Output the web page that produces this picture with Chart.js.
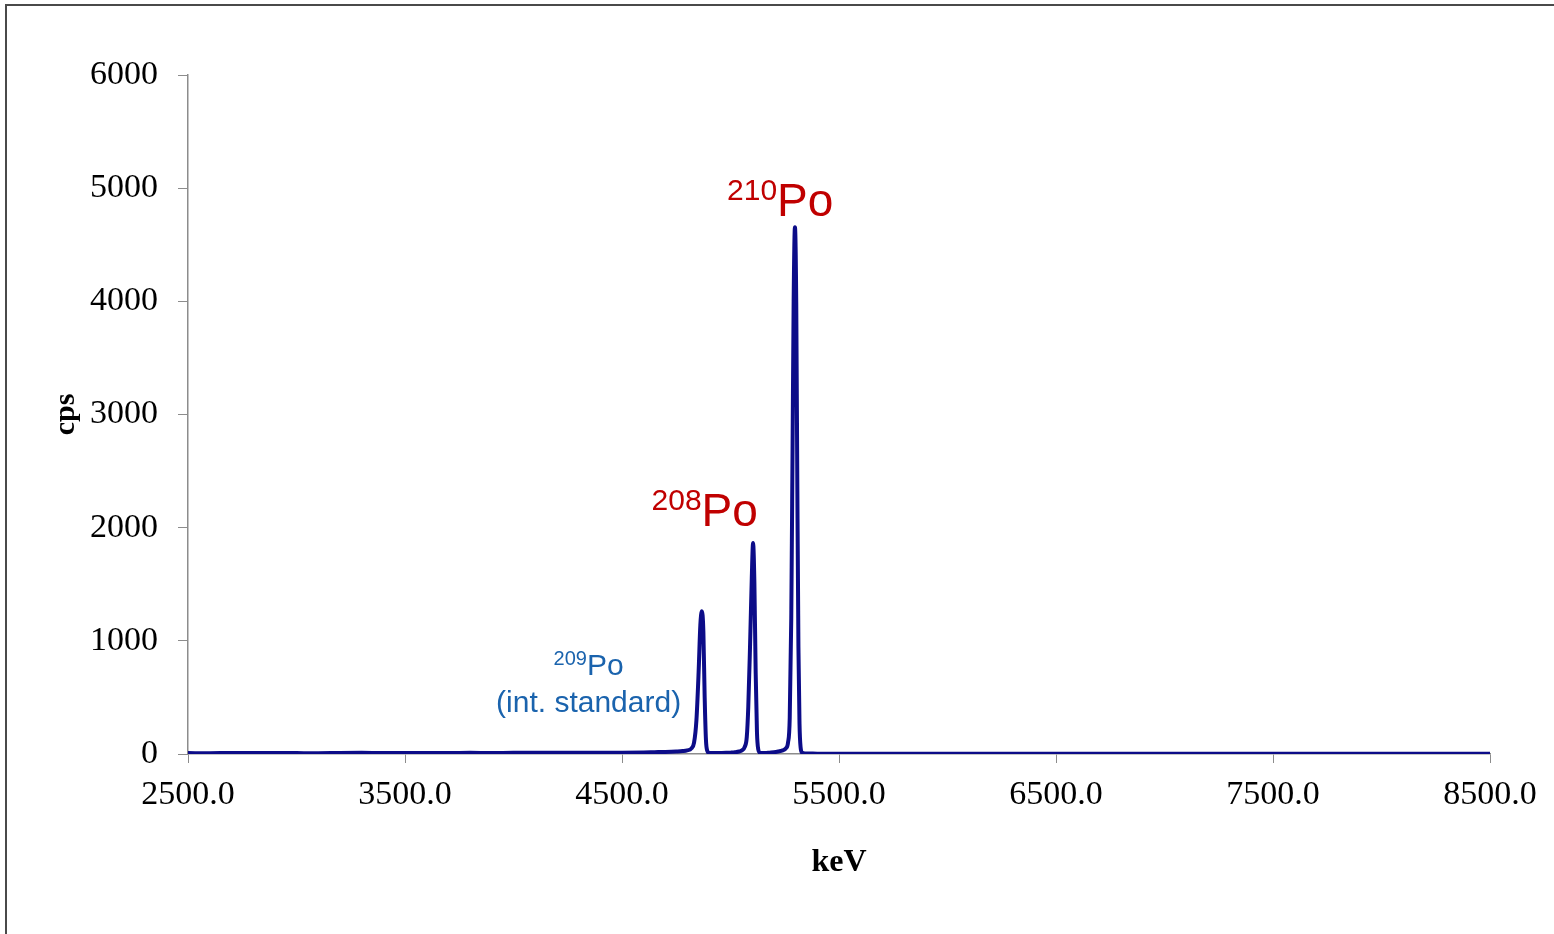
<!DOCTYPE html>
<html>
<head>
<meta charset="utf-8">
<script src="https://cdn.jsdelivr.net/npm/chart.js@4"></script>
<style>
  body { margin: 0; background: #fff; }
  canvas { display: block; }
</style>
</head>
<body>
<canvas id="myChart" width="1554" height="934"></canvas>
<script>
// alpha spectrum, energy in keV vs counts per second
var energy = [2500, 2600, 2700, 2800, 2900, 3000, 3100, 3200, 3300, 3400, 3500, 3600, 3700, 3800, 3900,
	4000, 4100, 4200, 4300, 4400, 4500, 4600, 4650, 4700, 4750, 4780, 4800, 4820, 4832, 4843, 4853,
	4861, 4868, 4875, 4881, 4887, 4893, 4900, 4920, 4950, 4980, 5000, 5020, 5040, 5055, 5065, 5075,
	5082, 5090, 5098, 5104, 5110, 5116, 5122, 5128, 5135, 5145, 5160, 5180, 5200, 5220, 5240, 5255,
	5265, 5273, 5280, 5286, 5291, 5297, 5303, 5308, 5313, 5318, 5323, 5330, 5345, 5370, 5400, 5500,
	5600, 5800, 6000, 6200, 6500, 7000, 7500, 8000, 8500];
var cps = [8, 7, 9, 8, 9, 8, 7, 9, 10, 8, 9, 9, 8, 10, 9,
	10, 10, 11, 10, 11, 12, 14, 16, 18, 22, 26, 32, 50, 100, 300, 720,
	1140, 1262, 1080, 500, 120, 28, 10, 8, 9, 10, 12, 15, 22, 35, 60, 150,
	420, 950, 1550, 1865, 1520, 720, 190, 40, 12, 8, 9, 12, 15, 22, 32, 50,
	100, 320, 1200, 2700, 4000, 4655, 3980, 2350, 950, 270, 60, 12, 5, 4, 3, 3,
	3, 3, 3, 2, 2, 2, 2, 2, 2];

var xTicks = [2500, 3500, 4500, 5500, 6500, 7500, 8500];
var yTicks = [0, 1000, 2000, 3000, 4000, 5000, 6000];

// peak labels placed in data units (keV, cps)
var peakLabels = [
	{ sup: '210', main: 'Po', x: 4984, y: 4754, color: '#c00000', big: 46, small: 30, rise: 16 },
	{ sup: '208', main: 'Po', x: 4636, y: 2013, color: '#c00000', big: 46, small: 30, rise: 16 }
];

var points = energy.map(function(e, i){ return { x: e, y: cps[i] }; });

var axisGrey = '#8c8c8c';

var peakPlugin = {
	id: 'peakText',
	beforeDraw: function(chart){
		var c = chart.ctx;
		c.save();
		c.strokeStyle = '#4a4a4a';
		c.lineWidth = 2;
		c.strokeRect(6, 5, 1700, 1100);
		c.restore();
	},
	afterDraw: function(chart){
		var c = chart.ctx;
		var xs = chart.scales.x, ys = chart.scales.y;
		c.save();
		c.textBaseline = 'alphabetic';
		c.textAlign = 'left';
		peakLabels.forEach(function(p){
			var px = xs.getPixelForValue(p.x);
			var py = ys.getPixelForValue(p.y);
			c.fillStyle = p.color;
			c.font = p.small + 'px "Liberation Sans", Arial, sans-serif';
			c.fillText(p.sup, px, py - p.rise);
			var w = c.measureText(p.sup).width;
			c.font = p.big + 'px "Liberation Sans", Arial, sans-serif';
			c.fillText(p.main, px + w, py);
		});

		// 209Po internal standard, two centred lines
		var cx = xs.getPixelForValue(4346);
		var y1 = ys.getPixelForValue(698);
		var y2 = ys.getPixelForValue(371);
		c.fillStyle = '#1a63ad';
		c.font = '20px "Liberation Sans", Arial, sans-serif';
		var ws = c.measureText('209').width;
		c.font = '30px "Liberation Sans", Arial, sans-serif';
		var wm = c.measureText('Po').width;
		var left = cx - (ws + wm) / 2;
		c.font = '20px "Liberation Sans", Arial, sans-serif';
		c.fillText('209', left, y1 - 10);
		c.font = '30px "Liberation Sans", Arial, sans-serif';
		c.fillText('Po', left + ws, y1);
		c.textAlign = 'center';
		c.fillText('(int. standard)', cx, y2);
		c.restore();
	}
};

var ctx = document.getElementById('myChart').getContext('2d');
var chart = new Chart(ctx, {
	type: 'line',
	data: {
		datasets: [{
			label: 'cps',
			data: points,
			borderColor: '#0c0c88',
			borderWidth: 4,
			pointRadius: 0,
			fill: false,
			cubicInterpolationMode: 'monotone'
		}]
	},
	options: {
		responsive: false,
		animation: false,
		events: [],
		layout: { padding: { top: 75, right: 64, bottom: 30, left: 0 } },
		plugins: {
			legend: { display: false },
			tooltip: { enabled: false }
		},
		scales: {
			x: {
				type: 'linear',
				min: 2500,
				max: 8500,
				afterFit: function(s){ s.height = 150; },
				afterBuildTicks: function(s){ s.ticks = xTicks.map(function(v){ return { value: v }; }); },
				ticks: {
					color: '#000',
					padding: 12,
					maxRotation: 0,
					font: { family: '"Liberation Serif", "Times New Roman", serif', size: 34 },
					callback: function(v){ return Number(v).toFixed(1); }
				},
				grid: { drawOnChartArea: false, tickLength: 9, color: axisGrey },
				border: { color: axisGrey, width: 1.5 },
				title: {
					display: true,
					text: 'keV',
					color: '#000',
					padding: { bottom: 22 },
					font: { family: '"Liberation Serif", "Times New Roman", serif', size: 32, weight: 'bold' }
				}
			},
			y: {
				type: 'linear',
				min: 0,
				max: 6000,
				afterFit: function(s){ s.width = 188; },
				afterBuildTicks: function(s){ s.ticks = yTicks.map(function(v){ return { value: v }; }); },
				ticks: {
					color: '#000',
					padding: 20,
					font: { family: '"Liberation Serif", "Times New Roman", serif', size: 34 },
					callback: function(v){ return String(v); }
				},
				grid: { drawOnChartArea: false, tickLength: 10, color: axisGrey },
				border: { color: axisGrey, width: 1.5 },
				title: {
					display: true,
					text: 'cps',
					color: '#000',
					padding: { top: 48 },
					font: { family: '"Liberation Serif", "Times New Roman", serif', size: 30, weight: 'bold' }
				}
			}
		}
	},
	plugins: [peakPlugin]
});
</script>
</body>
</html>
